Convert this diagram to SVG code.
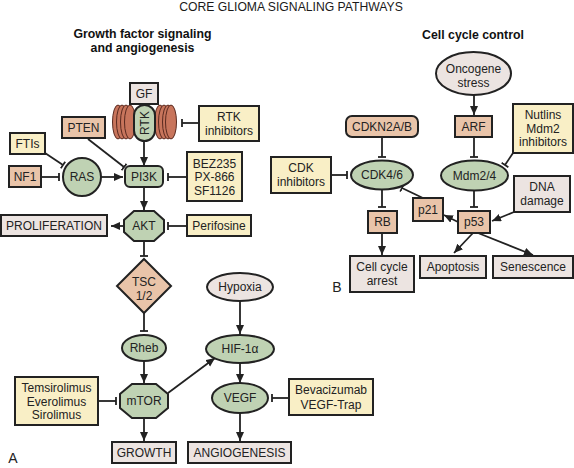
<svg xmlns="http://www.w3.org/2000/svg" width="574" height="468" viewBox="0 0 574 468">
<style>
text{font-family:"Liberation Sans",Arial,sans-serif;font-size:12px;fill:#222;text-anchor:middle}
.t{font-size:12.2px;fill:#1a1a1a}
.h{font-size:12.300px;font-weight:bold;fill:#111}
.s{stroke:#222;stroke-width:2}
.y{fill:#f9efc6}.o{fill:#e9c4a9}.g{fill:#bfd2b3}.e{fill:#ece4e1}
.c{fill:#c8755c;stroke:#5a2a20;stroke-width:1}
#connectors line{stroke:#222;stroke-width:1.8;fill:none}
.a{marker-end:url(#arr)}.b{marker-end:url(#bar)}
</style>
<defs>
<marker id="arr" markerWidth="12" markerHeight="10" refX="9" refY="4" orient="auto" markerUnits="userSpaceOnUse"><path d="M0 0L9 4L0 8Z" fill="#222"/></marker>
<marker id="bar" markerWidth="4" markerHeight="12" refX="1" refY="5" orient="auto" markerUnits="userSpaceOnUse"><path d="M1 1V9" stroke="#222" stroke-width="1.8" fill="none"/></marker>
</defs>
<rect width="574" height="468" fill="#fff"/>
<text class="t" x="291" y="10.500">CORE GLIOMA SIGNALING PATHWAYS</text>
<text class="h" x="142.500" y="37.500">Growth factor signaling</text>
<text class="h" x="142.500" y="51.500">and angiogenesis</text>
<text class="h" x="473" y="39">Cell cycle control</text>
<text x="13" y="463" style="font-size:14px">A</text>
<text x="337" y="292" style="font-size:14px">B</text>
<g id="connectors">
<line class="a" x1="144" y1="141" x2="144" y2="166"/>
<line class="b" x1="199" y1="123" x2="182" y2="123"/>
<line class="b" x1="88" y1="139" x2="124" y2="167"/>
<line class="b" x1="45" y1="153" x2="63" y2="165"/>
<line class="b" x1="41" y1="177" x2="59" y2="177"/>
<line class="a" x1="101" y1="177" x2="123" y2="177"/>
<line class="b" x1="187" y1="177" x2="168" y2="177"/>
<line class="a" x1="144" y1="187" x2="144" y2="210"/>
<line class="a" x1="124" y1="226" x2="111" y2="226"/>
<line class="b" x1="187" y1="226" x2="168" y2="226"/>
<line class="b" x1="144" y1="241" x2="144" y2="256"/>
<line class="b" x1="144" y1="313" x2="144" y2="331"/>
<line class="a" x1="144" y1="361" x2="144" y2="383"/>
<line class="b" x1="98" y1="401" x2="116" y2="401"/>
<line class="a" x1="144" y1="418" x2="144" y2="441"/>
<line class="a" x1="240" y1="301" x2="240" y2="334"/>
<line class="a" x1="240" y1="363" x2="240" y2="383"/>
<line class="a" x1="240" y1="413" x2="240" y2="441"/>
<line class="a" x1="168" y1="393" x2="215" y2="358"/>
<line class="b" x1="289" y1="398" x2="272" y2="398"/>
<line class="a" x1="474" y1="95" x2="474" y2="115"/>
<line class="b" x1="474" y1="137" x2="474" y2="157"/>
<line class="b" x1="513" y1="153" x2="505" y2="165"/>
<line class="b" x1="382" y1="137" x2="382" y2="157"/>
<line class="b" x1="331" y1="175" x2="347" y2="175"/>
<line class="b" x1="382" y1="189" x2="382" y2="207"/>
<line class="a" x1="382" y1="233" x2="382" y2="255"/>
<line class="b" x1="425" y1="199" x2="402" y2="188"/>
<line class="b" x1="474" y1="191" x2="474" y2="207"/>
<line class="a" x1="458" y1="222" x2="444" y2="215"/>
<line class="a" x1="514" y1="212" x2="492" y2="221"/>
<line class="a" x1="473" y1="233" x2="454" y2="253"/>
<line class="a" x1="478" y1="233" x2="533" y2="255"/>
</g>
<g id="n-rtk-coils">
<ellipse class="c" cx="118" cy="122" rx="5.5" ry="17"/><ellipse class="c" cx="122" cy="122" rx="5.5" ry="17"/><ellipse class="c" cx="126" cy="122" rx="5.5" ry="17"/><ellipse class="c" cx="130" cy="122" rx="5.5" ry="17"/>
<ellipse class="c" cx="160" cy="122" rx="5.5" ry="17"/><ellipse class="c" cx="164" cy="122" rx="5.5" ry="17"/><ellipse class="c" cx="168" cy="122" rx="5.5" ry="17"/><ellipse class="c" cx="171" cy="122" rx="5.5" ry="17"/>
</g>
<g id="n-gf"><rect class="e s" x="130" y="83" width="28" height="21"/><text x="144" y="98">GF</text></g>
<g id="n-rtk"><rect class="g s" x="134" y="105" width="21" height="36" rx="10.5"/><text transform="translate(149,123) rotate(-90)">RTK</text></g>
<g id="n-rtkinh"><rect class="y s" x="199" y="106" width="60" height="35"/><text x="229" y="121">RTK</text><text x="229" y="135">inhibitors</text></g>
<g id="n-pten"><rect class="o s" x="62" y="117" width="43" height="21"/><text x="83.500" y="132">PTEN</text></g>
<g id="n-ftis"><rect class="y s" x="10" y="133" width="35" height="21"/><text x="27.500" y="148">FTIs</text></g>
<g id="n-nf1"><rect class="o s" x="9" y="166" width="32" height="21"/><text x="25" y="181">NF1</text></g>
<g id="n-ras"><circle class="g s" cx="82" cy="177" r="19"/><text x="82" y="181">RAS</text></g>
<g id="n-pi3k"><rect class="g s" x="125" y="166" width="38" height="21" rx="5"/><text x="144" y="181">PI3K</text></g>
<g id="n-bez"><rect class="y s" x="187" y="152" width="55" height="49"/><text x="214.500" y="167.500">BEZ235</text><text x="214.500" y="181">PX-866</text><text x="214.500" y="194.500">SF1126</text></g>
<g id="n-akt"><path class="g s" d="M134 211H154L164 220V232L154 241H134L124 232V220Z"/><text x="144" y="230">AKT</text></g>
<g id="n-prolif"><rect class="e s" x="1" y="215" width="106" height="21"/><text x="54" y="230">PROLIFERATION</text></g>
<g id="n-perifosine"><rect class="y s" x="187" y="215" width="64" height="21"/><text x="219" y="230">Perifosine</text></g>
<g id="n-tsc"><path class="o s" d="M144 259L171 286L144 313L117 286Z"/><text x="144" y="286">TSC</text><text x="144" y="300">1/2</text></g>
<g id="n-rheb"><ellipse class="g s" cx="144" cy="348" rx="22" ry="13"/><text x="144" y="352">Rheb</text></g>
<g id="n-mtor"><path class="g s" d="M132 384H156L168 394V408L156 418H132L120 408V394Z"/><text x="144" y="405">mTOR</text></g>
<g id="n-temsi"><rect class="y s" x="15" y="377" width="83" height="48"/><text x="56.500" y="392">Temsirolimus</text><text x="56.500" y="405.500">Everolimus</text><text x="56.500" y="419">Sirolimus</text></g>
<g id="n-growth"><rect class="e s" x="112" y="442" width="64" height="21"/><text x="144" y="457">GROWTH</text></g>
<g id="n-hypoxia"><ellipse class="e s" cx="240" cy="287" rx="33" ry="14"/><text x="240" y="291">Hypoxia</text></g>
<g id="n-hif"><ellipse class="g s" cx="240" cy="349" rx="34" ry="14"/><text x="240" y="353">HIF-1α</text></g>
<g id="n-vegf"><ellipse class="g s" cx="240" cy="398" rx="28" ry="15"/><text x="240" y="402">VEGF</text></g>
<g id="n-bev"><rect class="y s" x="289" y="379" width="84" height="36"/><text x="331" y="394">Bevacizumab</text><text x="331" y="409">VEGF-Trap</text></g>
<g id="n-angio"><rect class="e s" x="188" y="442" width="103" height="21"/><text x="239.500" y="457">ANGIOGENESIS</text></g>
<g id="n-onc"><ellipse class="e s" cx="473.500" cy="73.500" rx="37.500" ry="21.500"/><text x="473.500" y="73">Oncogene</text><text x="473.500" y="87">stress</text></g>
<g id="n-arf"><rect class="o s" x="455" y="116" width="37" height="21"/><text x="473.500" y="131">ARF</text></g>
<g id="n-nutlins"><rect class="y s" x="513" y="104" width="60" height="49"/><text x="543" y="119">Nutlins</text><text x="543" y="132.500">Mdm2</text><text x="543" y="146">inhibitors</text></g>
<g id="n-mdm"><ellipse class="g s" cx="474.500" cy="175.500" rx="33.500" ry="15"/><text x="474.500" y="180">Mdm2/4</text></g>
<g id="n-cdkn"><rect class="o s" x="346" y="116" width="72" height="21" rx="6"/><text x="382" y="131">CDKN2A/B</text></g>
<g id="n-cdk"><ellipse class="g s" cx="382" cy="175" rx="31" ry="14.500"/><text x="382" y="179">CDK4/6</text></g>
<g id="n-cdkinh"><rect class="y s" x="271" y="157" width="60" height="36"/><text x="301" y="172">CDK</text><text x="301" y="186">inhibitors</text></g>
<g id="n-rb"><rect class="o s" x="368" y="211" width="29" height="22"/><text x="382.500" y="226">RB</text></g>
<g id="n-arrest"><rect class="e s" x="350" y="256" width="64" height="36"/><text x="382" y="271">Cell cycle</text><text x="382" y="285">arrest</text></g>
<g id="n-p21"><rect class="o s" x="413" y="198" width="30" height="23"/><text x="428" y="214">p21</text></g>
<g id="n-p53"><rect class="o s" x="458" y="211" width="32" height="22"/><text x="474" y="226">p53</text></g>
<g id="n-dna"><rect class="e s" x="514" y="176" width="56" height="36"/><text x="542" y="191">DNA</text><text x="542" y="205">damage</text></g>
<g id="n-apop"><rect class="e s" x="420" y="256" width="66" height="22"/><text x="453" y="271">Apoptosis</text></g>
<g id="n-sen"><rect class="e s" x="493" y="256" width="80" height="22"/><text x="533" y="271">Senescence</text></g>
</svg>
